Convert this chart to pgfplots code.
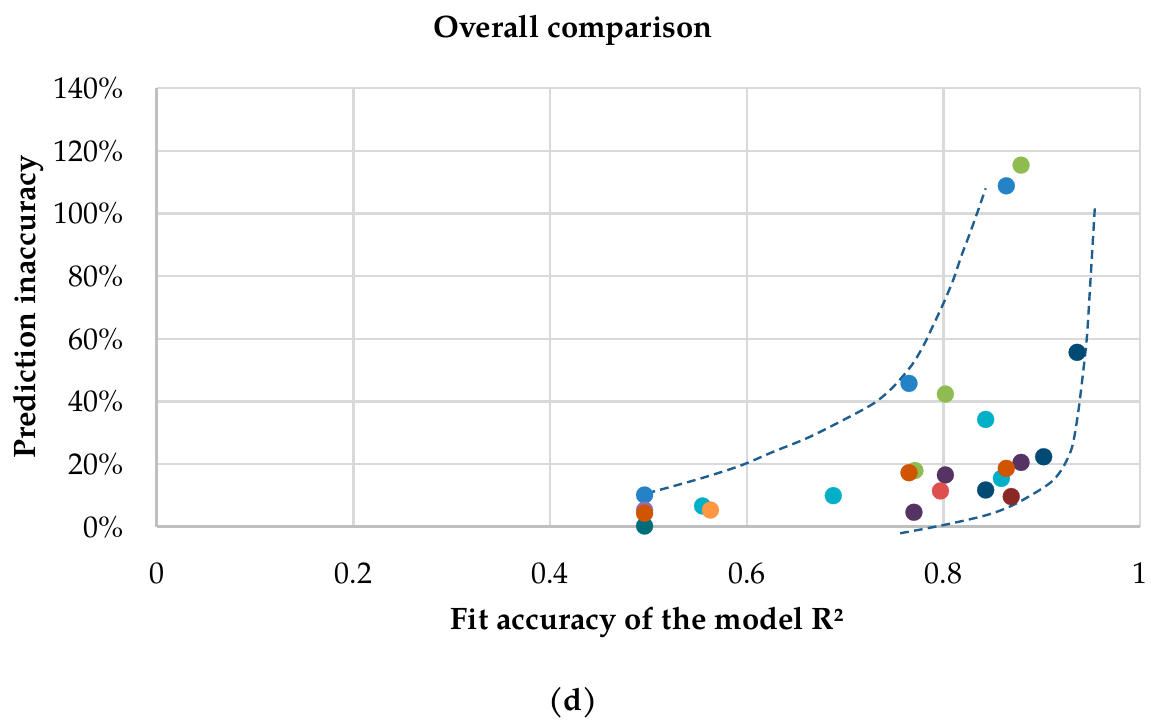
\documentclass[border=0pt]{standalone}
\usepackage{fontspec}
\setmainfont{TeX Gyre Pagella}
\usepackage{pgfplots}
\pgfplotsset{compat=1.18}
\definecolor{blueC}{RGB}{35,131,198}
\definecolor{greenC}{RGB}{143,188,80}
\definecolor{navyC}{RGB}{0,74,116}
\definecolor{cyanC}{RGB}{0,175,200}
\definecolor{purpleC}{RGB}{85,52,99}
\definecolor{orangeC}{RGB}{209,84,0}
\definecolor{redC}{RGB}{222,80,80}
\definecolor{darkredC}{RGB}{138,40,37}
\definecolor{tealC}{RGB}{0,110,122}
\definecolor{lpurpleC}{RGB}{144,112,176}
\definecolor{lorangeC}{RGB}{255,152,64}
\definecolor{trendC}{RGB}{31,95,143}
\definecolor{gridgray}{RGB}{217,217,217}
\definecolor{axisgray}{RGB}{191,191,191}
\pgfplotsset{dot/.style={only marks, mark=*, mark size=4.25pt, color=#1, mark options={solid, fill=#1, draw=#1, line width=0.1pt}}}
\begin{document}
\fontsize{15}{18}\selectfont
\begin{tikzpicture}
\begin{axis}[
  at={(0,0)}, anchor=south west,
  scale only axis, width=491.5pt, height=219.5pt,
  xmin=0, xmax=1, ymin=0, ymax=140,
  xtick={0,0.2,0.4,0.6,0.8,1},
  xticklabels={0,0.2,0.4,0.6,0.8,1},
  ytick={0,20,40,60,80,100,120,140},
  yticklabels={0\%,20\%,40\%,60\%,80\%,100\%,120\%,140\%},
  axis lines=left, axis line style={-, draw=axisgray, line width=1.5pt},
  grid=major, major grid style={draw=gridgray, line width=1.2pt},
  tick style={draw=none}, major tick length=0pt,
  xticklabel style={anchor=north, inner sep=0pt, yshift=-17.5pt},
  yticklabel style={anchor=east, inner sep=0pt, xshift=-16.5pt},
  tick label style={font=\fontsize{15}{18}\selectfont},
  clip=false,
]
\addplot[dot=greenC] coordinates {(0.771,18.0) (0.802,42.4) (0.879,115.4)};
\addplot[dot=cyanC] coordinates {(0.555,6.7) (0.688,10.0) (0.843,34.3) (0.859,15.5)};
\addplot[dot=blueC] coordinates {(0.496,10.2) (0.765,45.8) (0.864,108.8)};
\addplot[dot=lpurpleC] coordinates {(0.496,5.4)};
\addplot[dot=tealC] coordinates {(0.496,0.3)};
\addplot[dot=navyC] coordinates {(0.843,11.8) (0.902,22.4) (0.936,55.7)};
\addplot[dot=purpleC] coordinates {(0.770,4.7) (0.802,16.6) (0.879,20.6)};
\addplot[dot=redC] coordinates {(0.797,11.5)};
\addplot[dot=darkredC] coordinates {(0.869,9.7)};
\addplot[dot=lorangeC] coordinates {(0.563,5.4)};
\addplot[dot=orangeC] coordinates {(0.496,4.4) (0.765,17.3) (0.864,18.7)};
\addplot[no markers, smooth, tension=0.5, draw=trendC, line width=1.2pt, dash pattern=on 4.4pt off 2.6pt] coordinates {
(0.498,10.7) (0.55,15.2) (0.593,19.5) (0.627,24.0) (0.661,28.3) (0.695,33.6) (0.729,39.4) (0.749,44.7) (0.768,51.7) (0.780,58.0) (0.789,63.9) (0.800,71.3) (0.810,78.8) (0.818,86.2) (0.827,93.7) (0.836,101.6) (0.843,108)};
\addplot[no markers, smooth, tension=0.5, draw=trendC, line width=1.2pt, dash pattern=on 4.4pt off 2.6pt] coordinates {
(0.756,-2.0) (0.800,0.6) (0.844,3.8) (0.871,7.0) (0.898,11.8) (0.912,15) (0.922,19.2) (0.931,25.6) (0.937,36.3) (0.942,49) (0.946,60.7) (0.949,75.5) (0.954,101.6)};
\end{axis}
\node[font=\fontsize{15.5}{18}\selectfont\bfseries] at (208pt,248.5pt) {Overall comparison};
\node[font=\fontsize{15.5}{18}\selectfont\bfseries, rotate=90] at (-64.5pt,110pt) {Prediction inaccuracy};
\node[font=\fontsize{15.5}{18}\selectfont\bfseries] at (245pt,-47.5pt) {Fit accuracy of the model R²};
\node[font=\fontsize{15.5}{18}\selectfont\bfseries] at (208pt,-88pt) {(d)};
\pgfresetboundingbox
\path[use as bounding box] (-78.5pt,-99.5pt) rectangle (497pt,263.5pt);
\end{tikzpicture}
\end{document}
